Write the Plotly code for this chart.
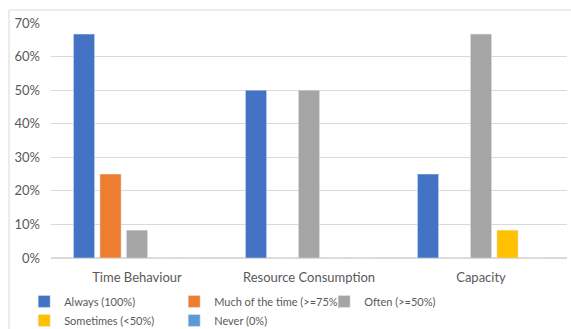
import plotly.graph_objects as go

categories = ["Time Behaviour", "Resource Consumption", "Capacity"]
series_names = ["Always (100%)", "Much of the time (>=75%)", "Often (>=50%)",
                "Sometimes (<50%)", "Never (0%)"]
always = [0.667, 0.50, 0.25]
much_of_time = [0.25, 0.0, 0.0]
often = [0.083, 0.50, 0.667]
sometimes = [0.0, 0.0, 0.083]
never = [0.0, 0.0, 0.0]
colors = ["#4472C4", "#ED7D31", "#A5A5A5", "#FFC000", "#5B9BD5"]
y_ticks = [0, 0.1, 0.2, 0.3, 0.4, 0.5, 0.6, 0.7]

W, H = 571, 329
ml, mr, mt, mb = 51, 4, 23, 71

fig = go.Figure()
for name, vals, c in zip(series_names, [always, much_of_time, often, sometimes, never], colors):
    fig.add_trace(go.Bar(name=name, x=categories, y=vals, marker_color=c))

pw = W - ml - mr
ph = H - mt - mb
# outer chart border (extends past right/bottom edges like the reference crop)
x0 = (9 - ml) / pw
y1 = 1 + (mt - 10) / ph
fig.add_shape(type="rect", xref="paper", yref="paper", x0=x0, x1=1.2, y0=-1.0, y1=y1,
              line=dict(color="#D9D9D9", width=1), fillcolor="rgba(0,0,0,0)", layer="below")

font = "Lato, Carlito, 'Liberation Sans', sans-serif"
fig.update_layout(
    width=W, height=H,
    margin=dict(l=ml, r=mr, t=mt, b=mb, autoexpand=False),
    paper_bgcolor="white", plot_bgcolor="white",
    barmode="group", bargap=0.23, bargroupgap=0.2,
    font=dict(family=font, size=13, color="#595959"),
    xaxis=dict(showgrid=False, showline=False, ticks="", ticklabelstandoff=10,
               tickfont=dict(size=13, color="#595959")),
    yaxis=dict(range=[0, 0.7], tickvals=y_ticks, tickformat=".0%", showgrid=True,
               gridcolor="#D9D9D9", gridwidth=1, zeroline=True, zerolinecolor="#D9D9D9",
               showline=False, ticks="", ticklabelstandoff=10,
               tickfont=dict(size=13, color="#595959")),
    showlegend=True,
    legend=dict(orientation="h", x=-0.052, xanchor="left", y=-0.123, yanchor="top",
                entrywidth=105, entrywidthmode="pixels",
                font=dict(size=11, color="#595959"), bgcolor="rgba(0,0,0,0)",
                itemwidth=30, tracegroupgap=0),
)
fig.write_html("out.html")
